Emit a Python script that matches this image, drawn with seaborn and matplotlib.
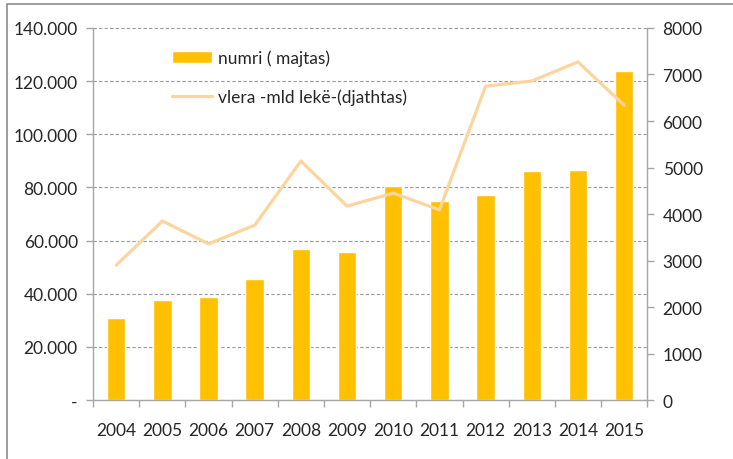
import matplotlib
matplotlib.use("Agg")
import matplotlib.pyplot as plt
import seaborn as sns
import numpy as np
from matplotlib.ticker import FuncFormatter, MultipleLocator, FixedLocator
from matplotlib.patches import Rectangle

# Data
years = ["2004", "2005", "2006", "2007", "2008", "2009",
         "2010", "2011", "2012", "2013", "2014", "2015"]
numri = [30900, 37600, 38800, 45500, 56800, 55700,
         80500, 75000, 77100, 86200, 86600, 123800]
vlera = [2900, 3850, 3360, 3760, 5140, 4170,
         4450, 4090, 6750, 6860, 7270, 6340]

bar_label = "numri ( majtas)"
line_label = "vlera -mld lekë-(djathtas)"

bar_color = "#FFC000"
line_color = "#FCD59E"
axis_gray = "#A6A6A6"

sns.set_theme(style="white")
plt.rcParams["font.family"] = ["Lato", "DejaVu Sans"]

fig = plt.figure(figsize=(7.33, 4.6), dpi=100)
ax = fig.add_axes([0.127, 0.128, 0.756, 0.809])

sns.barplot(x=years, y=numri, color=bar_color, width=0.4, saturation=1,
            ax=ax, label=bar_label, zorder=2)
ax.set_xlim(-0.5, len(years) - 0.5)
ax.set_ylim(0, 140000)
ax.yaxis.set_major_locator(MultipleLocator(20000))

def dot_thousands(v, pos):
    if v == 0:
        return "-"
    return f"{int(v):,}".replace(",", ".")

ax.yaxis.set_major_formatter(FuncFormatter(dot_thousands))
ax.grid(axis="y", color="#9A9A9A", linestyle=(0, (3, 2)), linewidth=0.8, zorder=0)
ax.set_axisbelow(True)

ax2 = ax.twinx()
sns.lineplot(x=np.arange(len(years)), y=vlera, color=line_color, linewidth=2.3,
             ax=ax2, label=line_label, zorder=3)
ax2.set_ylim(0, 8000)
ax2.yaxis.set_major_locator(MultipleLocator(1000))
ax2.grid(False)

# spines: left/bottom on the bar axis, right on the line axis
for side in ("top", "right"):
    ax.spines[side].set_visible(False)
for side in ("top", "left", "bottom"):
    ax2.spines[side].set_visible(False)
for sp in list(ax.spines.values()) + list(ax2.spines.values()):
    sp.set_color(axis_gray)
    sp.set_linewidth(1.0)

# category boundary ticks on the x axis
ax.xaxis.set_minor_locator(FixedLocator(np.arange(-0.5, len(years), 1.0)))
ax.tick_params(axis="x", which="major", length=0, pad=16, labelsize=12.5, colors="#262626")
ax.tick_params(axis="x", which="minor", length=5, width=1, color=axis_gray, bottom=True)
ax.tick_params(axis="y", which="major", left=True, length=5, width=1, color=axis_gray,
               labelsize=12.5, labelcolor="#262626", pad=6)
ax2.tick_params(axis="y", which="major", right=True, length=5, width=1, color=axis_gray,
                labelsize=12.5, labelcolor="#262626", pad=6)
ax.set_xlabel("")
ax.set_ylabel("")
ax2.set_ylabel("")

# combined legend
h1, l1 = ax.get_legend_handles_labels()
h2, l2 = ax2.get_legend_handles_labels()
if ax2.get_legend():
    ax2.get_legend().remove()
leg = ax.legend(h1 + h2, l1 + l2, loc="upper left", bbox_to_anchor=(0.115, 0.985),
                frameon=False, fontsize=12.5, labelspacing=1.3, handlelength=2.3,
                handleheight=0.7, handletextpad=0.3)
for t in leg.get_texts():
    t.set_color("#262626")

# outer frame
fig.patches.append(Rectangle((7 / 733, -0.01), 1.0, 1 - 5 / 460 + 0.01,
                             transform=fig.transFigure, fill=False,
                             edgecolor="#8C8C8C", linewidth=1.2))

fig.savefig("out.png", dpi=100)
